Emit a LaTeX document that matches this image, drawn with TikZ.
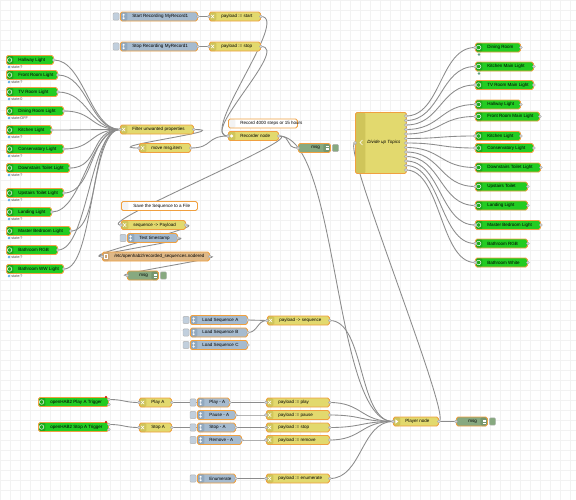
\documentclass[tikz,border=0pt]{standalone}
\usepackage{fontspec}
\setmainfont{Liberation Sans}
\usetikzlibrary{calc}
\pgfdeclarelayer{bg}
\pgfdeclarelayer{wires}
\pgfsetlayers{bg,wires,main}
\definecolor{nrorange}{HTML}{F0A040}
\definecolor{ohgreen}{HTML}{22CC22}
\definecolor{ohgreenD}{HTML}{1CAA1C}
\definecolor{chg}{HTML}{E2D96E}
\definecolor{chgD}{HTML}{CFC55A}
\definecolor{inj}{HTML}{A6BBCF}
\definecolor{injD}{HTML}{91A8BE}
\definecolor{dbg}{HTML}{87A980}
\definecolor{dbgD}{HTML}{76976F}
\definecolor{fil}{HTML}{DEB887}
\definecolor{filD}{HTML}{CCA473}
\definecolor{cmt}{HTML}{FFFFFF}
\definecolor{cmtD}{HTML}{F3F3F3}
\definecolor{wirec}{HTML}{8C8C8C}
\definecolor{gridc}{HTML}{F2F2F2}
\definecolor{portc}{HTML}{D9D9D9}
\definecolor{statblue}{HTML}{3399DD}
\definecolor{statgreen}{HTML}{5F9E80}
\tikzset{
  nr/.style={draw=nrorange, line width=0.65pt, rounded corners=1.2pt, minimum height=6.75pt, inner sep=0pt, anchor=west},
  port/.style={circle, draw=gray!70, fill=portc, line width=0.3pt, minimum size=2.3pt, inner sep=0pt},
  btn/.style={draw=gray!60, line width=0.3pt, rounded corners=0.8pt, minimum width=4.6pt, minimum height=5.4pt, inner sep=0pt},
  lbl/.style={font=\fontsize{3.4}{4}\selectfont, anchor=west, inner sep=0pt, text=black},
  slbl/.style={font=\fontsize{2.8}{3.4}\selectfont, anchor=west, inner sep=0pt, text=black!70},
  wire/.style={draw=wirec, line width=0.65pt},
}
\newcommand\icoh[1]{\draw[white,line width=0.35pt] ([xshift=2.7pt]#1.west) circle (1.7pt);}
\newcommand\icchg[1]{\draw[white,line width=0.4pt] ([xshift=1.5pt,yshift=-1.3pt]#1.west) -- ++(2.4pt,2.6pt) ([xshift=1.5pt,yshift=1.3pt]#1.west) -- ++(2.4pt,-2.6pt);}
\newcommand\icinj[1]{\draw[white,line width=0.4pt] ([xshift=2.7pt,yshift=-1.8pt]#1.west) -- ++(0,3.6pt) ([xshift=1.9pt,yshift=1pt]#1.west) -- ++(0.8pt,0.8pt) -- ++(0.8pt,-0.8pt) ([xshift=1.9pt,yshift=-1pt]#1.west) -- ++(0.8pt,-0.8pt) -- ++(0.8pt,0.8pt);}
\newcommand\icrec[1]{\fill[white] ([xshift=2.7pt]#1.west) circle (1.3pt);}
\newcommand\icplay[1]{\fill[white] ([xshift=1.8pt,yshift=1.6pt]#1.west) -- ++(2.2pt,-1.6pt) -- ++(-2.2pt,-1.6pt) -- cycle;}
\newcommand\icfile[1]{\draw[white,line width=0.35pt] ([xshift=1.8pt,yshift=-1.6pt]#1.west) rectangle ++(1.8pt,3.2pt);}
\newcommand\icnone[1]{}
% name x y w fill strip label icon
\newcommand\nrnode[8]{%
  \node[nr, fill=#5, minimum width={#4*0.75pt},
    path picture={\fill[#6] (path picture bounding box.south west) rectangle ([xshift=5.25pt]path picture bounding box.north west);}] (#1) at (#2,#3) {};
  \csname ic#8\endcsname{#1}%
  \node[lbl] at ([xshift=9pt]#1.west) {#7};}
\newcommand\injbtn[1]{\node[btn, fill=inj!70!white, anchor=east] at ([xshift=-0.5pt]#1.west) {};}
% debug node: name x y w
\newcommand\dbgnode[4]{%
  \node[nr, fill=dbg, minimum width={#4*0.75pt},
    path picture={\fill[dbgD] (path picture bounding box.south east) rectangle ([xshift=-5.25pt]path picture bounding box.north east);}] (#1) at (#2,#3) {};
  \foreach \k in {-1,0,1} \draw[white, line width=0.3pt] ([xshift=-3.7pt,yshift=\k*1.2pt]#1.east) -- ++(2.2pt,0);
  \node[lbl, anchor=east] at ([xshift=-8pt]#1.east) {msg};
  \node[btn, fill=dbg, anchor=west] at ([xshift=1pt]#1.east) {};}
\newcommand\outport[1]{\node[port] at (#1.east) {};}
\newcommand\inport[1]{\node[port] at (#1.west) {};}
\newcommand\status[2]{\fill[statblue] ([xshift=2.3pt,yshift=-5.3pt]#1.west) circle (1pt);
  \fill[white] ([xshift=2.3pt,yshift=-5.3pt]#1.west) circle (0.4pt);
  \node[slbl] at ([xshift=3.8pt,yshift=-5.3pt]#1.west) {#2};}
\newcommand\gdot[1]{\fill[statgreen] ([xshift=3pt,yshift=-5.3pt]#1.west) circle (1pt);}
\newcommand\wirep[3]{\draw[wire] (#1) .. controls ($(#1)+(#3,0)$) and ($(#2)-(#3,0)$) .. (#2);}
\begin{document}
\begin{tikzpicture}[x=0.75pt,y=-0.75pt]
\useasboundingbox (0,0) rectangle (576,500);
\begin{pgfonlayer}{bg}
  \fill[white] (0,0) rectangle (576,500);
  \foreach \i in {0,10,...,570} \draw[gridc, line width=0.3pt] (\i,0) -- (\i,500);
  \foreach \j in {0,10,...,500} \draw[gridc, line width=0.3pt] (0,\j) -- (576,\j);
\end{pgfonlayer}

% ---- left lights
\nrnode{L1}{6}{60}{47}{ohgreen}{ohgreenD}{Hallway Light}{oh}
\nrnode{L2}{6}{75}{51}{ohgreen}{ohgreenD}{Front Room Light}{oh}
\nrnode{L3}{6}{92}{51}{ohgreen}{ohgreenD}{TV Room Light}{oh}
\nrnode{L4}{6}{111}{57}{ohgreen}{ohgreenD}{Dining Room Light}{oh}
\nrnode{L5}{6}{130}{45}{ohgreen}{ohgreenD}{Kitchen Light}{oh}
\nrnode{L6}{6}{149}{57}{ohgreen}{ohgreenD}{Conservatory Light}{oh}
\nrnode{L7}{6}{168}{63}{ohgreen}{ohgreenD}{Downstairs Toilet Light}{oh}
\nrnode{L8}{6}{193}{57}{ohgreen}{ohgreenD}{Upstairs Toilet Light}{oh}
\nrnode{L9}{6}{212}{45}{ohgreen}{ohgreenD}{Landing Light}{oh}
\nrnode{L10}{6}{231}{64}{ohgreen}{ohgreenD}{Master Bedroom Light}{oh}
\nrnode{L11}{6}{250}{51}{ohgreen}{ohgreenD}{Bathroom RGB}{oh}
\nrnode{L12}{6}{269}{57}{ohgreen}{ohgreenD}{Bathroom WW Light}{oh}
\foreach \n in {1,...,12} {\outport{L\n}}
\status{L1}{state:?}\status{L2}{state:?}\status{L3}{state:0}\status{L4}{state:OFF}
\status{L5}{state:?}\status{L6}{state:?}\status{L7}{state:?}\status{L8}{state:?}
\status{L9}{state:?}\status{L10}{state:?}\status{L11}{state:?}\status{L12}{state:?}

% ---- recorder area
\nrnode{FLT}{120}{129.5}{73}{chg}{chgD}{Filter unwanted properties}{chg}
\inport{FLT}\outport{FLT}
\nrnode{MOV}{139}{148}{51}{chg}{chgD}{move msg.item}{chg}
\inport{MOV}\outport{MOV}
\nrnode{SR}{120}{16.5}{77}{inj}{injD}{Start Recording MyRecord1}{inj}
\injbtn{SR}\outport{SR}
\nrnode{ST}{120}{46.5}{77}{inj}{injD}{Stop Recording MyRecord1}{inj}
\injbtn{ST}\outport{ST}
\nrnode{PST}{209}{16.5}{51}{chg}{chgD}{payload := start}{chg}
\inport{PST}\outport{PST}
\nrnode{PSP}{209}{46.5}{51}{chg}{chgD}{payload := stop}{chg}
\inport{PSP}\outport{PSP}
\nrnode{CM1}{228}{123.5}{69}{cmt}{cmtD}{Record 4000 steps or 15 hours}{none}
\nrnode{REC}{228}{136}{50}{chg}{chgD}{Recorder node}{rec}
\inport{REC}\outport{REC}
\dbgnode{DB1}{298}{148}{32}
\inport{DB1}

% ---- divide
\node[nr, anchor=north west, fill=chg, minimum width={51*0.75pt}, minimum height={61*0.75pt},
  path picture={\fill[chgD] (path picture bounding box.south west) rectangle ([xshift=7.5pt]path picture bounding box.north west);}] (DV) at (355,112) {};
\draw[white, line width=0.5pt] (362.5,140) -- (360,142.5) -- (362.5,145);
\node[lbl, font=\fontsize{3.4}{4}\selectfont\itshape] at (367,142.5) {Divide up Topics};
\inport{DV}
\foreach \i in {1,...,13} {\node[port] (D\i) at (406,{116+4.5*(\i-1)}) {};}

% ---- right lights
\nrnode{R1}{475}{47.5}{45}{ohgreen}{ohgreenD}{Dining Room}{oh}
\nrnode{R2}{475}{66.5}{58}{ohgreen}{ohgreenD}{Kitchen Main Light}{oh}
\nrnode{R3}{475}{85}{58}{ohgreen}{ohgreenD}{TV Room Main Light}{oh}
\nrnode{R4}{475}{104.5}{45}{ohgreen}{ohgreenD}{Hallway Light}{oh}
\nrnode{R5}{475}{116.5}{64}{ohgreen}{ohgreenD}{Front Room Main Light}{oh}
\nrnode{R6}{475}{136}{45}{ohgreen}{ohgreenD}{Kitchen Light}{oh}
\nrnode{R7}{475}{148}{58}{ohgreen}{ohgreenD}{Conservatory Light}{oh}
\nrnode{R8}{475}{167.5}{65}{ohgreen}{ohgreenD}{Downstairs Toilet Light}{oh}
\nrnode{R9}{475}{186.5}{52}{ohgreen}{ohgreenD}{Upstairs Toilet}{oh}
\nrnode{R10}{475}{205.5}{52}{ohgreen}{ohgreenD}{Landing Light}{oh}
\nrnode{R11}{475}{225}{65}{ohgreen}{ohgreenD}{Master Bedroom Light}{oh}
\nrnode{R12}{475}{243.5}{52}{ohgreen}{ohgreenD}{Bathroom RGB}{oh}
\nrnode{R13}{475}{262.5}{52}{ohgreen}{ohgreenD}{Bathroom White}{oh}
\foreach \n in {1,...,13} {\inport{R\n}\outport{R\n}}
\gdot{R1}\gdot{R2}

% ---- save sequence
\nrnode{CM2}{121}{206}{76}{cmt}{cmtD}{Save the Sequence to a File}{none}
\nrnode{SEQ}{121}{225}{64}{chg}{chgD}{sequence -> Payload}{chg}
\inport{SEQ}\outport{SEQ}
\nrnode{TS}{127}{238}{50}{inj}{injD}{Test timestamp}{inj}
\injbtn{TS}\outport{TS}
\nrnode{FIL}{102}{256.5}{107}{fil}{filD}{/etc/openhab2/recorded\_sequences.nodered}{file}
\inport{FIL}\outport{FIL}
\dbgnode{DB2}{127}{275.5}{31}
\inport{DB2}

% ---- load sequences
\nrnode{LA}{190}{320}{57}{inj}{injD}{Load Sequence A}{inj}
\nrnode{LB}{190}{332.5}{57}{inj}{injD}{Load Sequence B}{inj}
\nrnode{LC}{190}{345}{57}{inj}{injD}{Load Sequence C}{inj}
\injbtn{LA}\injbtn{LB}\injbtn{LC}\outport{LA}\outport{LB}\outport{LC}
\nrnode{PSQ}{267}{320.5}{62}{chg}{chgD}{payload -> sequence}{chg}
\inport{PSQ}\outport{PSQ}

% ---- player area
\nrnode{T1}{38}{402}{70}{ohgreen}{ohgreenD}{openHAB2 Play A Trigger}{oh}
\nrnode{T2}{38}{427}{70}{ohgreen}{ohgreenD}{openHAB2 Stop A Trigger}{oh}
\node[port] (T1a) at ([yshift=1.9pt]T1.east) {};
\node[port] (T1b) at ([yshift=-1.9pt]T1.east) {};
\node[port] (T2a) at ([yshift=1.9pt]T2.east) {};
\node[port] (T2b) at ([yshift=-1.9pt]T2.east) {};
\fill[red!80!black] (106,397) circle (0.9pt);
\fill[red!80!black] (106,422) circle (0.9pt);
\nrnode{PA}{139}{402.5}{32}{chg}{chgD}{Play A}{chg}
\nrnode{SA}{139}{427.5}{32}{chg}{chgD}{Stop A}{chg}
\inport{PA}\outport{PA}\inport{SA}\outport{SA}
\nrnode{I1}{197}{402.5}{32}{inj}{injD}{Play - A}{inj}
\nrnode{I2}{197}{415}{38}{inj}{injD}{Pause - A}{inj}
\nrnode{I3}{197}{427.5}{38}{inj}{injD}{Stop - A}{inj}
\nrnode{I4}{197}{440}{44}{inj}{injD}{Remove - A}{inj}
\nrnode{I5}{197}{478.5}{38}{inj}{injD}{Enumerate}{inj}
\foreach \n in {1,...,5} {\injbtn{I\n}\outport{I\n}}
\nrnode{C1}{266}{402.5}{63}{chg}{chgD}{payload := play}{chg}
\nrnode{C2}{266}{415}{63}{chg}{chgD}{payload := pause}{chg}
\nrnode{C3}{266}{427.5}{63}{chg}{chgD}{payload := stop}{chg}
\nrnode{C4}{266}{440}{63}{chg}{chgD}{payload := remove}{chg}
\nrnode{C5}{266}{478.5}{63}{chg}{chgD}{payload := enumerate}{chg}
\foreach \n in {1,...,5} {\inport{C\n}\outport{C\n}}
\nrnode{PL}{393}{421.5}{45}{chg}{chgD}{Player node}{play}
\inport{PL}\outport{PL}
\dbgnode{DB3}{456}{421.5}{31}
\inport{DB3}

% ---- wires
\begin{pgfonlayer}{wires}
\foreach \n in {1,...,12} {\wirep{L\n.east}{FLT.west}{30}}
\wirep{FLT.east}{MOV.west}{45}
\wirep{MOV.east}{REC.west}{22}
\wirep{SR.east}{PST.west}{8}
\wirep{ST.east}{PSP.west}{8}
\wirep{PST.east}{REC.west}{30}
\wirep{PSP.east}{REC.west}{30}
\wirep{REC.east}{DB1.west}{14}
\wirep{REC.east}{SEQ.west}{30}
\wirep{REC.east}{PL.west}{60}
\foreach \i in {1,...,13} {\wirep{D\i.center}{R\i.west}{35}}
\wirep{SEQ.east}{FIL.west}{25}
\wirep{TS.east}{FIL.west}{25}
\wirep{FIL.east}{DB2.west}{22}
\wirep{LA.east}{PSQ.west}{10}
\wirep{LB.east}{PSQ.west}{10}
\wirep{PSQ.east}{PL.west}{35}
\wirep{T1a.center}{PA.west}{15}
\wirep{T2a.center}{SA.west}{15}
\wirep{PA.east}{C1.west}{40}
\wirep{SA.east}{C3.west}{40}
\foreach \n in {1,...,5} {\wirep{I\n.east}{C\n.west}{18}}
\foreach \n in {1,...,5} {\wirep{C\n.east}{PL.west}{32}}
\wirep{PL.east}{DB3.west}{9}
\wirep{PL.east}{DV.west}{15}
\end{pgfonlayer}
\end{tikzpicture}
\end{document}
